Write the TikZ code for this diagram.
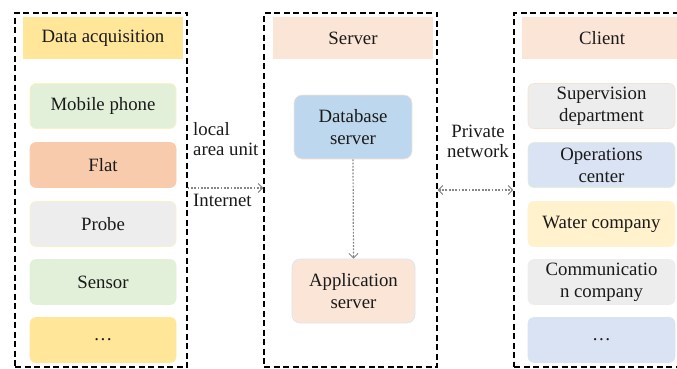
\documentclass[tikz,border=0pt]{standalone}
\usepackage{fontspec}
\setmainfont{Liberation Serif}
\usepackage{xcolor}
\usepackage{tikz}
\usetikzlibrary{arrows.meta, positioning}

\definecolor{headyel}{HTML}{FFE699}
\definecolor{peach}{HTML}{FBE5D6}
\definecolor{leaf}{HTML}{E2F0D9}
\definecolor{salmon}{HTML}{F8CBAD}
\definecolor{ash}{HTML}{EDEDED}
\definecolor{sky}{HTML}{BDD7EE}
\definecolor{pale}{HTML}{DAE3F3}
\definecolor{cream}{HTML}{FFF2CC}
\definecolor{ink}{HTML}{1A1A1A}

\begin{document}
\begin{tikzpicture}[x=1pt, y=-1pt, text=ink,
    frame/.style={draw, dashed, dash pattern=on 6pt off 3.5pt, line width=1.2pt, minimum height=354pt, inner sep=0pt},
    head/.style={minimum width=160pt, minimum height=42pt, inner sep=0pt, font=\fontsize{18.8}{22}\selectfont},
    item/.style={rounded corners=6pt, line width=0.6pt, minimum width=146pt, minimum height=45pt, inner sep=0pt, align=center, font=\fontsize{18.8}{22}\selectfont},
    srv/.style={rounded corners=8pt, line width=0.6pt, minimum height=64pt, inner sep=0pt, align=center, font=\fontsize{18.8}{22}\selectfont},
    link/.style={gray!95, line width=1.2pt, dash pattern=on 1.8pt off 1.5pt},
    barb/.tip={Straight Barb[length=4.5pt, width=9pt, line width=1pt]},
    lbl/.style={align=left, inner sep=0pt, font=\fontsize{18.8}{20}\selectfont}]
  \useasboundingbox (0,0) rectangle (677,369);
  \clip (0,0) rectangle (677,369);
  % dashed frames
  \node[frame, minimum width=172pt] (lframe) at (101,190) {};
  \node[frame, minimum width=173pt] (mframe) at (350.5,190) {};
  \node[frame, minimum width=176pt] (rframe) at (602,190) {};
  % data acquisition
  \node[head, fill=headyel] (acq) at (103,38) {Data acquisition};
  \node[item, fill=leaf, draw=headyel!60] (phone) at (103,106) {Mobile phone};
  \node[item, fill=salmon, draw=salmon] (flat) at (103,165) {Flat};
  \node[item, fill=ash, draw=headyel!60] (probe) at (103,224) {Probe};
  \node[item, fill=leaf, draw=leaf] (sensor) at (103,282) {Sensor};
  \node[item, fill=headyel, draw=headyel] (more1) at (103,340) {\dots};
  % server
  \node[head, fill=peach] (server) at (353,38) {Server};
  \node[srv, fill=sky, draw=peach, minimum width=118pt] (db) at (353,127) {Database\\server};
  \node[srv, fill=peach, draw=pale, minimum width=123pt] (app) at (353.5,291) {Application\\server};
  % client
  \node[head, fill=peach] (client) at (602,38) {Client};
  \node[item, fill=ash, draw=peach!80!salmon, minimum width=147pt] (superv) at (601.5,106) {Supervision\\department};
  \node[item, fill=pale, draw=leaf, minimum width=147pt] (ops) at (601.5,165) {Operations\\center};
  \node[item, fill=cream, draw=cream, minimum width=147pt] (water) at (601.5,224) {Water company};
  \node[item, fill=ash, draw=ash, minimum width=147pt] (comm) at (601.5,282) {Communicatio\\n company};
  \node[item, fill=pale, draw=pale, minimum width=147pt] (more2) at (601.5,340) {\dots};
  % links
  \draw[link, -{barb}] ([yshift=2pt]lframe.east) -- ([yshift=2pt]mframe.west);
  \draw[link, -{barb}] (db.south) -- (app.north);
  \draw[link, {barb}-{barb}] (mframe.east) -- (rframe.west);
  \node[lbl, anchor=base west] (lan) at (193,155) {local\\area unit};
  \node[lbl, anchor=base west] (inet) at (193,206) {Internet};
  \node[lbl, align=center, anchor=base] (priv) at (478,157) {Private\\network};
\end{tikzpicture}
\end{document}
